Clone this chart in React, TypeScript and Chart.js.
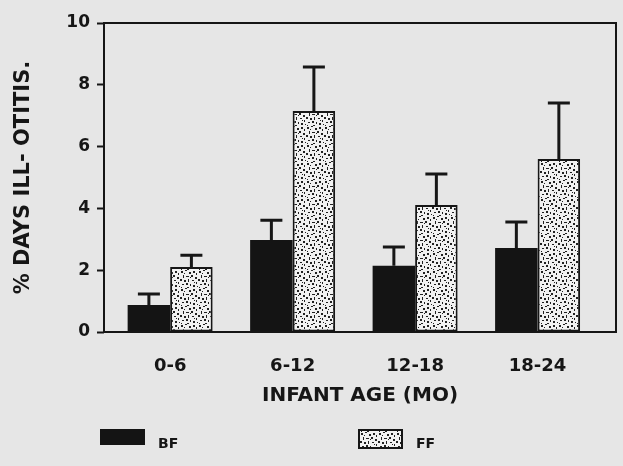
import React, { useEffect, useRef } from "react";
import { Chart, registerables } from "chart.js";

Chart.register(...registerables);

const categories = ["0-6", "6-12", "12-18", "18-24"];
const seriesLabels = ["BF", "FF"];
const bfValues = [0.87, 2.98, 2.14, 2.72];
const ffValues = [2.1, 7.15, 4.11, 5.6];
const bfErrors = [0.36, 0.64, 0.61, 0.84];
const ffErrors = [0.38, 1.43, 1.0, 1.81];
const yTickStep = 2;
const yMax = 10;
const xTitle = "INFANT AGE (MO)";
const yTitle = "% DAYS ILL- OTITIS.";

const INK = "#161616";
const BG = "#e6e6e6";
const FONT = "'DejaVu Sans', 'Liberation Sans', sans-serif";

const stippleMarks: number[][] = [
  [1, 1, 2, 2], [5, 0, 2, 1], [9, 2, 2, 2], [13, 1, 2, 2], [16, 3, 1, 2],
  [3, 5, 1, 3], [6, 6, 3, 1], [11, 5, 2, 2], [15, 7, 2, 2], [0, 9, 2, 2],
  [4, 10, 2, 2], [8, 9, 1, 3], [12, 10, 2, 1], [16, 12, 1, 2], [2, 14, 2, 1],
  [6, 13, 2, 2], [10, 14, 1, 2], [13, 15, 2, 2], [17, 16, 1, 1], [7, 17, 2, 1],
  [1, 17, 1, 1], [14, 12, 1, 1], [10, 7, 1, 1], [4, 3, 1, 1],
];

function makeStipple(ctx: CanvasRenderingContext2D) {
  const tile = document.createElement("canvas");
  tile.width = 18;
  tile.height = 18;
  const g = tile.getContext("2d")!;
  g.fillStyle = "#f2f2f2";
  g.fillRect(0, 0, 18, 18);
  g.fillStyle = "#222222";
  for (const [x, y, w, h] of stippleMarks) g.fillRect(x, y, w, h);
  return ctx.createPattern(tile, "repeat")!;
}

const errorBarPlugin = {
  id: "errorBars",
  afterDatasetsDraw(chart: any) {
    const ctx = chart.ctx;
    const yScale = chart.scales.y;
    const errs = [bfErrors, ffErrors];
    ctx.save();
    ctx.strokeStyle = INK;
    ctx.lineWidth = 3;
    ctx.lineCap = "butt";
    chart.data.datasets.forEach((ds: any, di: number) => {
      const meta = chart.getDatasetMeta(di);
      meta.data.forEach((bar: any, i: number) => {
        const v = ds.data[i].y;
        const top = yScale.getPixelForValue(v + errs[di][i]);
        ctx.beginPath();
        ctx.moveTo(bar.x, bar.y);
        ctx.lineTo(bar.x, top);
        ctx.moveTo(bar.x - 11, top);
        ctx.lineTo(bar.x + 11, top);
        ctx.stroke();
      });
    });
    ctx.restore();
  },
};

const framePlugin = {
  id: "frame",
  afterDatasetsDraw(chart: any) {
    const { ctx, chartArea } = chart;
    ctx.save();
    ctx.strokeStyle = INK;
    ctx.lineWidth = 2;
    ctx.strokeRect(chartArea.left, chartArea.top, chartArea.right - chartArea.left, chartArea.bottom - chartArea.top);
    ctx.restore();
  },
};

const legendPlugin = {
  id: "customLegend",
  afterDraw(chart: any) {
    const { ctx, chartArea } = chart;
    const items = chart.data.datasets;
    const starts = [chartArea.left - 4, chartArea.left + 254];
    ctx.save();
    items.forEach((ds: any, i: number) => {
      const x = starts[i];
      const y = 429;
      const w = 45;
      const h = i === 0 ? 16 : 20;
      ctx.fillStyle = ds.backgroundColor;
      ctx.fillRect(x, y, w, h);
      if (ds.borderWidth) {
        ctx.strokeStyle = INK;
        ctx.lineWidth = 2;
        ctx.strokeRect(x + 1, y + 1, w - 2, h - 2);
      }
      ctx.fillStyle = INK;
      ctx.font = `bold 14px ${FONT}`;
      ctx.textBaseline = "middle";
      ctx.textAlign = "left";
      ctx.fillText(ds.label, x + w + 13, 444);
    });
    ctx.restore();
  },
};

export default function App() {
  const ref = useRef<HTMLCanvasElement>(null);
  useEffect(() => {
    const canvas = ref.current!;
    const ctx = canvas.getContext("2d")!;
    const stipple = makeStipple(ctx);
    Chart.defaults.font.family = FONT;
    Chart.defaults.color = INK;
    const chart = new Chart(canvas, {
      type: "bar",
      data: {
        datasets: [
          {
            label: seriesLabels[0],
            data: bfValues.map((v, i) => ({ x: i, y: v })),
            backgroundColor: "#141414",
            borderWidth: 0,
            categoryPercentage: 0.694,
            barPercentage: 1,
          },
          {
            label: seriesLabels[1],
            data: ffValues.map((v, i) => ({ x: i, y: v })),
            backgroundColor: stipple,
            borderColor: INK,
            borderWidth: 2,
            borderSkipped: false,
            categoryPercentage: 0.694,
            barPercentage: 1,
          },
        ] as any,
      },
      options: {
        animation: false,
        responsive: true,
        maintainAspectRatio: false,
        layout: { padding: { left: 0, right: 7, top: 23, bottom: 0 } },
        plugins: { legend: { display: false }, tooltip: { enabled: false } },
        scales: {
          x: {
            type: "linear",
            offset: false,
            min: -0.54,
            max: 3.64,
            afterBuildTicks: (s: any) => {
              s.ticks = categories.map((_, i) => ({ value: i }));
            },
            afterFit: (s: any) => {
              s.height = 134;
            },
            ticks: {
              callback: (v: any) => categories[v] ?? "",
              font: { size: 18, weight: "bold" },
              padding: 24,
              autoSkip: false,
              maxRotation: 0,
              color: INK,
            },
            grid: { display: false, drawTicks: false, offset: false },
            border: { display: false },
            title: {
              display: true,
              text: xTitle,
              font: { size: 20, weight: "bold" },
              color: INK,
              padding: { top: 0, bottom: 58 },
            },
          },
          y: {
            min: 0,
            max: yMax,
            afterFit: (s: any) => {
              s.width = 104;
            },
            ticks: {
              stepSize: yTickStep,
              font: { size: 17, weight: "bold" },
              padding: 7,
              color: INK,
            },
            grid: {
              display: true,
              drawOnChartArea: false,
              drawTicks: true,
              tickLength: 7,
              tickWidth: 2,
              tickColor: INK,
            },
            border: { display: false },
            title: {
              display: true,
              text: yTitle,
              font: { size: 21, weight: "bold" },
              color: INK,
              padding: { top: 11, bottom: 0 },
            },
          },
        },
      } as any,
      plugins: [framePlugin, errorBarPlugin, legendPlugin],
    });
    return () => chart.destroy();
  }, []);
  return (
    <div style={{ position: "absolute", left: 0, top: 0, width: 623, height: 466, background: BG }}>
      <canvas ref={ref} />
    </div>
  );
}
